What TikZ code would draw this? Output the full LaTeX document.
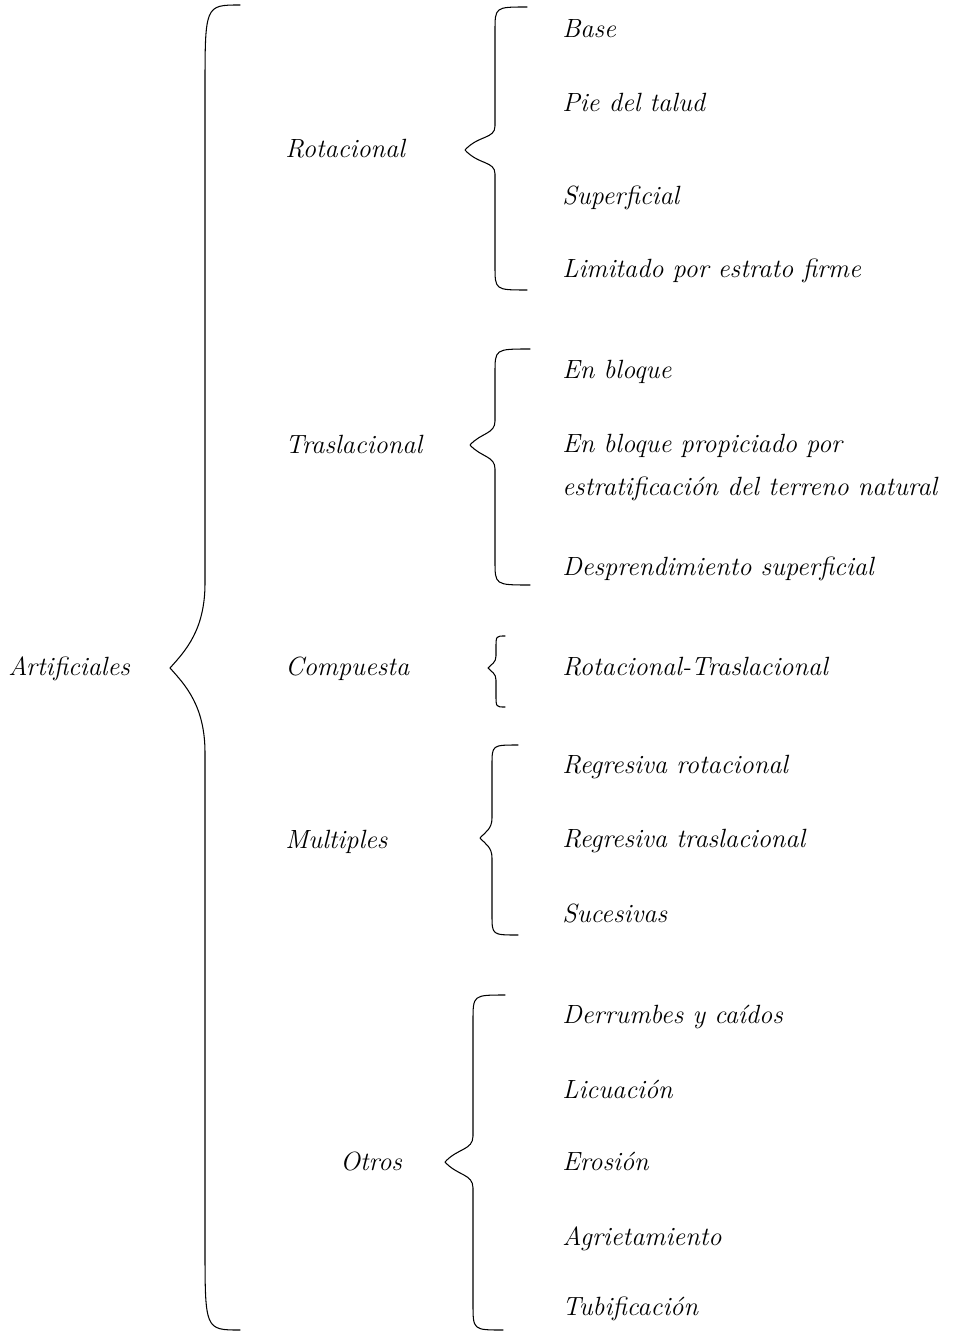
\documentclass[tikz,border=0pt]{standalone}
\usetikzlibrary{calc}
\tikzset{
  llave/.style={line width=0.6pt,line cap=round,line join=round},
  rotulo/.style={anchor=base west,inner sep=0pt,font=\fontsize{15}{17}\selectfont\itshape}
}
% #1 punta, #2 extremo superior, #3 extremo inferior, #4 desplazamiento, #5 radio
\newcommand\llave[5]{%
  \draw[llave] (#2) .. controls ($(#2 -| #1)+(#4,0)$) .. ($(#2 -| #1)+(#4,#5)$)
    -- ($(#1)+(#4,-#5)$) .. controls ($(#1)+(#4,-0.45*#5)$) and ($(#1)+(0.45*#4,-0.5*#4)$) .. (#1)
    .. controls ($(#1)+(0.45*#4,0.5*#4)$) and ($(#1)+(#4,0.45*#5)$) .. ($(#1)+(#4,#5)$)
    -- ($(#3 -| #1)+(#4,-#5)$) .. controls ($(#3 -| #1)+(#4,0)$) .. (#3);}

\begin{document}
\begin{tikzpicture}[x=0.02cm,y=-0.02cm]
  \useasboundingbox (0,0) rectangle (962,1334);
  \node[rotulo] (A) at (8,675) {Artificiales};
  \coordinate (pA) at (170,668);
  \coordinate (aA) at (240,5);
  \coordinate (bA) at (240,1330);
  \llave{pA}{aA}{bA}{35}{85}
  % rotacional
  \node[rotulo] (R) at (285,158) {Rotacional};
  \coordinate (pR) at (465,150);
  \coordinate (aR) at (527,7);
  \coordinate (bR) at (527,290);
  \llave{pR}{aR}{bR}{30}{24}
  \node[rotulo] (R1) at (562,38) {Base};
  \node[rotulo] (R2) at (562,112) {Pie del talud};
  \node[rotulo] (R3) at (562,205) {Superficial};
  \node[rotulo] (R4) at (562,278) {Limitado por estrato firme};
  % traslacional
  \node[rotulo] (T) at (285,453) {Traslacional};
  \coordinate (pT) at (470,445);
  \coordinate (aT) at (530,349);
  \coordinate (bT) at (530,585);
  \llave{pT}{aT}{bT}{25}{24}
  \node[rotulo] (T1) at (562,378) {En bloque};
  \node[rotulo,align=left] (T2) at (562,495) {En bloque propiciado por\\[7pt]estratificación del terreno natural};
  \node[rotulo] (T3) at (562,575) {Desprendimiento superficial};
  % compuesta
  \node[rotulo] (C) at (285,675) {Compuesta};
  \coordinate (pC) at (488,668);
  \coordinate (aC) at (505,636);
  \coordinate (bC) at (505,707);
  \llave{pC}{aC}{bC}{8}{12}
  \node[rotulo] (C1) at (562,675) {Rotacional-Traslacional};
  % multiples
  \node[rotulo] (M) at (285,848) {Multiples};
  \coordinate (pM) at (480,838);
  \coordinate (aM) at (518,745);
  \coordinate (bM) at (518,935);
  \llave{pM}{aM}{bM}{12}{20}
  \node[rotulo] (M1) at (562,773) {Regresiva rotacional};
  \node[rotulo] (M2) at (562,847) {Regresiva traslacional};
  \node[rotulo] (M3) at (562,922) {Sucesivas};
  % otros
  \node[rotulo] (O) at (340,1170) {Otros};
  \coordinate (pO) at (445,1162);
  \coordinate (aO) at (505,995);
  \coordinate (bO) at (503,1330);
  \llave{pO}{aO}{bO}{28}{26}
  \node[rotulo] (O1) at (562,1023) {Derrumbes y caídos};
  \node[rotulo] (O2) at (562,1098) {Licuación};
  \node[rotulo] (O3) at (562,1170) {Erosión};
  \node[rotulo] (O4) at (562,1245) {Agrietamiento};
  \node[rotulo] (O5) at (562,1315) {Tubificación};
\end{tikzpicture}
\end{document}
